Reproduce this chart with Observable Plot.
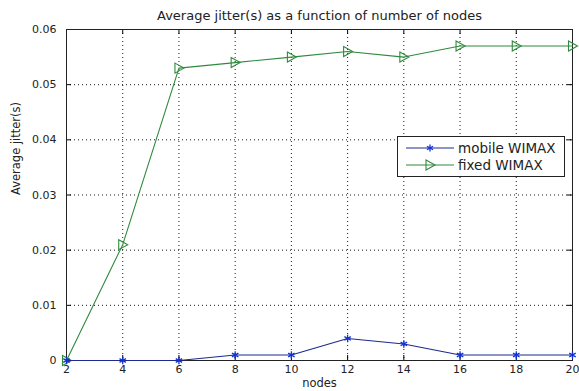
<!DOCTYPE html>
<html>
<head>
<meta charset="utf-8">
<script src="https://cdn.jsdelivr.net/npm/d3@7"></script>
<script src="https://cdn.jsdelivr.net/npm/@observablehq/plot@0.6"></script>
<style>
  html, body { margin: 0; padding: 0; background: #fff; }
  #wrap { position: relative; width: 579px; height: 391px; font-family: "DejaVu Sans", sans-serif; }
  #legend { position: absolute; left: 397px; top: 136px; width: 166px; height: 39px; background: #fff; border: 1px solid #222; }
</style>
</head>
<body>
<div id="wrap"></div>
<script>
const title = "Average jitter(s) as a function of number of nodes";
const xLabel = "nodes";
const yLabel = "Average jitter(s)";
const nodes = [2, 4, 6, 8, 10, 12, 14, 16, 18, 20];
const mobileWimax = [0, 0, 0, 0.001, 0.001, 0.004, 0.003, 0.001, 0.001, 0.001];
const fixedWimax = [0, 0.021, 0.053, 0.054, 0.055, 0.056, 0.055, 0.057, 0.057, 0.057];
const xTicks = [2, 4, 6, 8, 10, 12, 14, 16, 18, 20];
const yTicks = [0, 0.01, 0.02, 0.03, 0.04, 0.05, 0.06];
const seriesNames = ["mobile WIMAX", "fixed WIMAX"];

const mobileRows = nodes.map((n, i) => ({x: n, y: mobileWimax[i]}));
const fixedRows = nodes.map((n, i) => ({x: n, y: fixedWimax[i]}));

const triangleRight = {
  draw(ctx, size) {
    const r = Math.sqrt(size / Math.PI);
    ctx.moveTo(-r * 0.8, -r);
    ctx.lineTo(r, 0);
    ctx.lineTo(-r * 0.8, r);
    ctx.closePath();
  }
};

const W = 579, H = 391, mL = 66, mR = 7, mT = 29, mB = 31;
const pw = W - mL - mR, ph = H - mT - mB;
const green = "#2f8a3c", blueLine = "#1c2a8e", blueMark = "#1230d8";

const chart = Plot.plot({
  width: W, height: H,
  marginLeft: mL, marginRight: mR, marginTop: mT, marginBottom: mB,
  x: {domain: [2, 20]},
  y: {domain: [0, 0.06]},
  style: {fontFamily: "'DejaVu Sans', sans-serif", fontSize: "11px", background: "white", color: "#222", overflow: "visible"},
  marks: [
    Plot.gridX(xTicks, {stroke: "#000", strokeOpacity: 0.9, strokeDasharray: "1,3"}),
    Plot.gridY(yTicks, {stroke: "#000", strokeOpacity: 0.9, strokeDasharray: "1,3"}),
    Plot.tickY(yTicks, {y: d => d, insetRight: pw - 5, stroke: "#000"}),
    Plot.tickY(yTicks, {y: d => d, insetLeft: pw - 5, stroke: "#000"}),
    Plot.tickX(xTicks, {x: d => d, insetTop: ph - 5, stroke: "#000"}),
    Plot.tickX(xTicks, {x: d => d, insetBottom: ph - 5, stroke: "#000"}),
    Plot.frame({stroke: "#222"}),
    Plot.axisX(xTicks, {tickSize: 0, tickPadding: 5, label: null, fontSize: 11}),
    Plot.axisY(yTicks, {tickSize: 0, tickPadding: 10, label: null, fontSize: 11, tickFormat: d => d === 0 ? "0" : d.toFixed(2)}),
    Plot.line(fixedRows, {x: "x", y: "y", stroke: green, strokeWidth: 1.1}),
    Plot.dot(fixedRows, {x: "x", y: "y", symbol: triangleRight, r: 5, stroke: green, fill: "none", strokeWidth: 1.1}),
    Plot.line(mobileRows, {x: "x", y: "y", stroke: blueLine, strokeWidth: 1.1}),
    Plot.dot(mobileRows, {x: "x", y: "y", symbol: "asterisk", r: 3.5, stroke: blueMark, strokeWidth: 1.3}),
    Plot.text([title], {frameAnchor: "top", lineAnchor: "middle", dy: -14, fontSize: 13}),
    Plot.text([xLabel], {frameAnchor: "bottom", lineAnchor: "middle", dy: 23, fontSize: 11.5}),
    Plot.text([yLabel], {frameAnchor: "left", lineAnchor: "middle", rotate: -90, dx: -50, fontSize: 11.5})
  ]
});

const wrap = document.getElementById("wrap");
wrap.appendChild(chart);

// legend
const legend = document.createElement("div");
legend.id = "legend";
const colors = [[blueLine, blueMark], [green, green]];
let svg = `<svg width="166" height="39" xmlns="http://www.w3.org/2000/svg" style="font-family:'DejaVu Sans',sans-serif;font-size:13.5px">`;
seriesNames.forEach((name, i) => {
  const y = 11 + i * 17;
  svg += `<line x1="8" x2="56" y1="${y}" y2="${y}" stroke="${colors[i][0]}" stroke-width="1.1"/>`;
  if (i === 0) {
    const r = 3.5;
    svg += `<g stroke="${colors[i][1]}" stroke-width="1.3">` +
      `<line x1="32" x2="32" y1="${y - r}" y2="${y + r}"/>` +
      `<line x1="${32 - r * 0.87}" x2="${32 + r * 0.87}" y1="${y - r / 2}" y2="${y + r / 2}"/>` +
      `<line x1="${32 - r * 0.87}" x2="${32 + r * 0.87}" y1="${y + r / 2}" y2="${y - r / 2}"/></g>`;
  } else {
    const r = 5;
    svg += `<path d="M${32 - r * 0.8},${y - r}L${32 + r},${y}L${32 - r * 0.8},${y + r}Z" fill="none" stroke="${colors[i][1]}" stroke-width="1.1"/>`;
  }
  svg += `<text x="60" y="${y}" dy="0.35em" fill="#222">${name}</text>`;
});
svg += `</svg>`;
legend.innerHTML = svg;
wrap.appendChild(legend);
</script>
</body>
</html>
